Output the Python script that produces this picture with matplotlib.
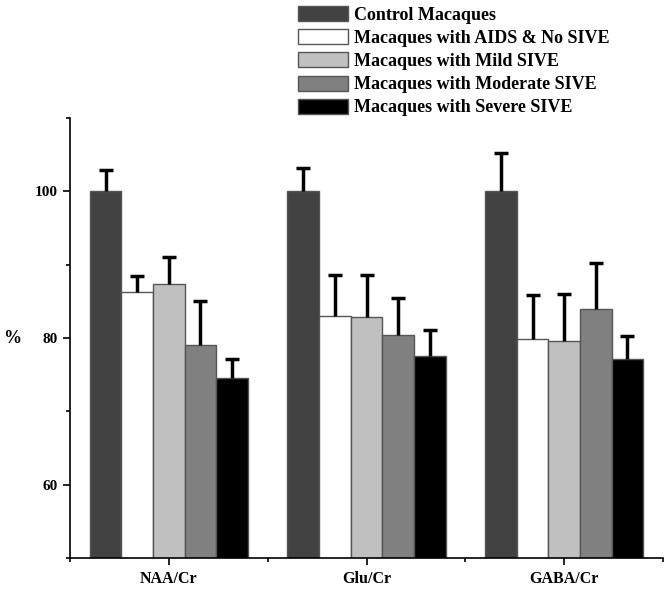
import numpy as np
import matplotlib
matplotlib.use("Agg")
import matplotlib.pyplot as plt
from matplotlib.ticker import FixedLocator

ratios = ["NAA/Cr", "Glu/Cr", "GABA/Cr"]
groups = ["Control Macaques", "Macaques with AIDS & No SIVE", "Macaques with Mild SIVE",
          "Macaques with Moderate SIVE", "Macaques with Severe SIVE"]
# values (%) per group, one entry per ratio
control = [100.0, 100.0, 100.0]
aids_no_sive = [86.3, 83.0, 79.9]
mild = [87.3, 82.9, 79.6]
moderate = [79.0, 80.4, 83.9]
severe = [74.5, 77.6, 77.2]
# upper error (SD) per group
control_err = [2.9, 3.2, 5.2]
aids_no_sive_err = [2.1, 5.6, 5.9]
mild_err = [3.7, 5.7, 6.4]
moderate_err = [6.1, 5.0, 6.3]
severe_err = [2.7, 3.5, 3.1]

values = [control, aids_no_sive, mild, moderate, severe]
errors = [control_err, aids_no_sive_err, mild_err, moderate_err, severe_err]
colors = ["#424242", "#ffffff", "#c0c0c0", "#808080", "#000000"]

plt.rcParams['font.family'] = ['Liberation Serif', 'DejaVu Serif']
plt.rcParams['font.weight'] = 'bold'

fig = plt.figure(figsize=(6.7, 5.92), dpi=100)
ax = fig.add_axes([0.1045, 0.0574, 0.8851, 0.7433])

x = np.arange(len(ratios))
w = 0.16
for i, (vals, errs, c) in enumerate(zip(values, errors, colors)):
    pos = x + (i - 2) * w
    ax.bar(pos, vals, width=w, color=c, edgecolor="#555555", linewidth=1.0,
           label=groups[i], zorder=2)
    ax.errorbar(pos, vals, yerr=[np.zeros(len(vals)), errs], fmt='none',
                ecolor='black', elinewidth=2.5, capsize=0, zorder=3)
    ax.plot(pos, np.array(vals) + np.array(errs), ls='none', marker='_',
            ms=10, mew=2.5, color='black', zorder=3)

ax.set_xlim(-0.5, 2.5)
ax.set_ylim(50, 110)
ax.set_xticks(x)
ax.set_xticklabels(ratios, fontsize=11.5, fontweight='bold')
ax.xaxis.set_minor_locator(FixedLocator([-0.5, 0.5, 1.5, 2.5]))
ax.set_yticks([60, 80, 100])
ax.set_yticklabels(["60", "80", "100"], fontsize=11, fontweight='bold')
ax.yaxis.set_minor_locator(FixedLocator([50, 70, 90, 110]))
ax.tick_params(which='major', length=5, width=1.2)
ax.tick_params(which='minor', length=3, width=1.2)
ax.tick_params(axis='x', which='major', pad=4)
ax.tick_params(axis='y', which='major', pad=4)
for s in ['top', 'right']:
    ax.spines[s].set_visible(False)
for s in ['left', 'bottom']:
    ax.spines[s].set_linewidth(1.2)
ax.set_ylabel("%", rotation=0, fontsize=13, fontweight='bold', labelpad=16, va='center')

fig.legend(loc='upper left', bbox_to_anchor=(0.428, 1.008), frameon=False,
           handlelength=2.8, handleheight=0.9, handletextpad=0.35,
           labelspacing=0.3, borderaxespad=0.2,
           prop={'family': 'Liberation Serif', 'weight': 'bold', 'size': 13})

fig.savefig("out.png", dpi=100)
